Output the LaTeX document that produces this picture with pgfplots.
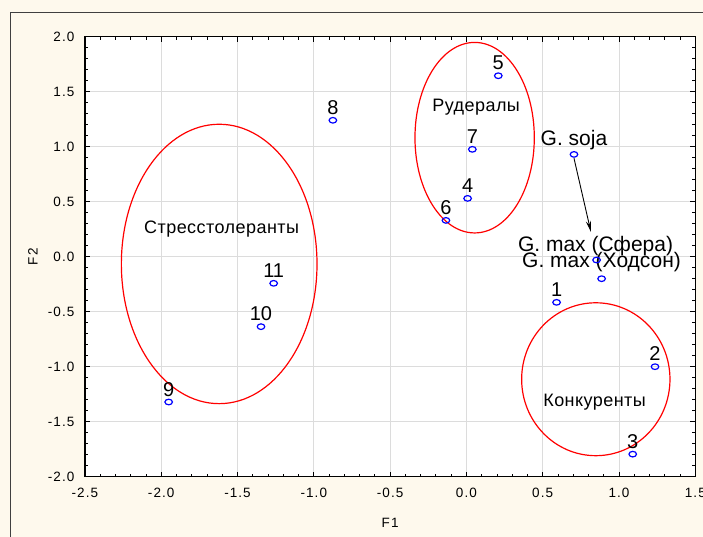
\documentclass[border=0pt]{standalone}
\usepackage{fontspec}
\setmainfont{Liberation Sans}
\newfontfamily\tickfam[LetterSpace=8]{Liberation Sans}
\newfontfamily\grpfam[LetterSpace=2.5]{Liberation Sans}
\usepackage{pgfplots}
\pgfplotsset{compat=1.18}
\usetikzlibrary{arrows.meta}
\definecolor{bgcream}{RGB}{254,249,237}
\definecolor{gridgray}{RGB}{220,220,220}
\newcommand{\numf}{\fontsize{20}{24}\selectfont}
\newcommand{\gf}{\fontsize{21}{25}\selectfont}
\newcommand{\grf}{\grpfam\fontsize{18}{21}\selectfont}
\newcommand{\tf}{\tickfam\fontsize{13.5}{16}\selectfont}
\begin{document}
\begin{tikzpicture}[x=1pt,y=1pt]
\fill[bgcream] (0,0) rectangle (703,537);
\path[use as bounding box] (0,0) rectangle (703,537);
\draw[black!75, line width=1pt] (10.5,-5) -- (10.5,524) -- (710,524);
\begin{axis}[
  at={(84.9pt,60.3pt)}, anchor=south west,
  scale only axis, width=610.4pt, height=440pt,
  xmin=-2.5, xmax=1.5, ymin=-2, ymax=2,
  xtick={-2.5,-2,-1.5,-1,-0.5,0,0.5,1,1.5},
  ytick={-2,-1.5,-1,-0.5,0,0.5,1,1.5,2},
  minor x tick num=4, minor y tick num=4,
  tick align=inside,
  major tick length=5pt, minor tick length=3pt,
  tick style={black, line width=0.8pt},
  axis line style={black, line width=1.3pt},
  grid=major,
  major grid style={gridgray, line width=0.9pt},
  axis background/.style={fill=white},
  /pgf/number format/.cd, fixed, fixed zerofill, precision=1, assume math mode=true,
  /pgfplots/.cd,
  ticklabel style={font=\tf},
  xticklabel style={yshift=-8pt},
  yticklabel style={xshift=-7pt},
  xlabel={F1}, ylabel={F2},
  label style={font=\tf},
  xlabel style={at={(axis description cs:0.5,-0.1045)}, anchor=center},
  ylabel style={at={(axis description cs:-0.0852,0.5)}, anchor=center},
]
% ellipses (group outlines)
\draw[red, line width=1.2pt] (axis cs:-1.62,-0.066) ellipse [x radius=0.641, y radius=1.27];
\draw[red, line width=1.2pt] (axis cs:0.054,1.082) ellipse [x radius=0.391, y radius=0.866];
\draw[red, line width=1.2pt] (axis cs:0.848,-1.114) ellipse [x radius=0.486, y radius=0.695];

\addplot[only marks, mark=o, mark size=2.8pt, mark options={xscale=1.35, blue, line width=1.2pt}]
  coordinates {
  (0.591,-0.415) (1.236,-1.0) (1.09,-1.795) (0.008,0.53) (0.209,1.645)
  (-0.134,0.33) (0.039,0.976) (-0.875,1.24) (-1.951,-1.321) (-1.346,-0.636)
  (-1.263,-0.242) (0.705,0.93) (0.853,-0.03) (0.886,-0.20)
  };

\begin{scope}[every node/.style={inner sep=0pt, anchor=base, font=\numf}]
\node at (axis cs:0.591,-0.415) [yshift=6pt] {1};
\node at (axis cs:1.236,-1.0) [yshift=6pt] {2};
\node at (axis cs:1.09,-1.795) [yshift=6pt] {3};
\node at (axis cs:0.008,0.53) [yshift=6pt] {4};
\node at (axis cs:0.209,1.645) [yshift=6pt] {5};
\node at (axis cs:-0.134,0.33) [yshift=6pt] {6};
\node at (axis cs:0.039,0.976) [yshift=6pt] {7};
\node at (axis cs:-0.875,1.24) [yshift=6pt] {8};
\node at (axis cs:-1.951,-1.321) [yshift=6pt] {9};
\node at (axis cs:-1.346,-0.636) [yshift=6pt] {10};
\node at (axis cs:-1.263,-0.242) [yshift=6pt] {11};
\end{scope}
\begin{scope}[every node/.style={inner sep=0pt, anchor=base, font=\gf}]
\node at (axis cs:0.705,0.93) [yshift=9pt] {G. soja};
\node at (axis cs:0.853,-0.03) [yshift=8pt, xshift=-1pt] {G. max (Сфера)};
\node at (axis cs:0.886,-0.20) [yshift=11pt] {G. max (Ходсон)};
\end{scope}
\begin{scope}[every node/.style={inner sep=0pt, anchor=base, font=\grf}]
\node at (axis cs:-1.604,0.215) {Стресстолеранты};
\node at (axis cs:0.064,1.318) {Рудералы};
\node at (axis cs:0.84,-1.364) {Конкуренты};
\end{scope}
\draw[-{Stealth[length=11pt,width=5pt]}, line width=0.9pt] (axis cs:0.705,0.895) -- (axis cs:0.816,0.225);
\end{axis}
\end{tikzpicture}
\end{document}
